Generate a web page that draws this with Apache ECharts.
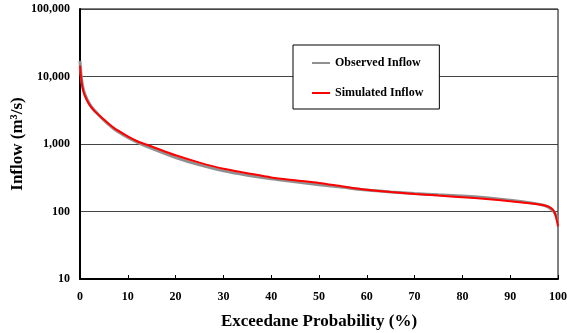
<!DOCTYPE html>
<html>
<head>
<meta charset="utf-8">
<script src="https://cdn.jsdelivr.net/npm/echarts@6/dist/echarts.min.js"></script>
<style>
  html, body { margin: 0; padding: 0; background: #fff; }
  #main { width: 567px; height: 333px; }
</style>
</head>
<body>
<div id="main"></div>
<script>
// exceedance probability (%) and flows
var prob = [0, 0.2, 0.5, 1, 2, 3, 5, 7, 10, 12, 15, 20, 25, 30, 35, 40, 45, 50, 55, 60, 65, 70, 75, 80, 85, 90, 95, 97, 98, 99, 99.5, 100];
var observed = [17000, 11000, 7500, 5500, 3900, 3150, 2250, 1700, 1250, 1060, 860, 630, 490, 400, 345, 305, 275, 250, 228, 208, 195, 185, 177, 170, 160, 147, 132, 124, 116, 102, 90, 70];
var simulated = [14500, 10000, 7000, 5200, 3800, 3100, 2300, 1750, 1300, 1100, 920, 680, 530, 430, 370, 320, 290, 265, 235, 210, 195, 182, 172, 163, 153, 142, 130, 124, 118, 105, 88, 60];
var seriesNames = ['Observed Inflow', 'Simulated Inflow'];

function pairs(ys) {
    return prob.map(function (p, i) { return [p, ys[i]]; });
}

var myChart = echarts.init(document.getElementById('main'));

var font = 'Liberation Serif';

var option = {
    animation: false,
    backgroundColor: '#fff',
    grid: {
        left: 80,
        right: 9,
        top: 9,
        bottom: 54,
        outerBoundsMode: 'none',
        containLabel: false,
        show: true,
        borderColor: '#000',
        borderWidth: 1
    },
    legend: {
        data: seriesNames,
        orient: 'vertical',
        left: 293,
        top: 45,
        padding: [12, 16, 10, 19],
        itemGap: 18,
        itemWidth: 18,
        itemHeight: 2,
        icon: 'rect',
        backgroundColor: '#fff',
        borderColor: '#000',
        borderWidth: 1,
        textStyle: {
            fontFamily: font,
            fontWeight: 'bold',
            fontSize: 12,
            color: '#000'
        }
    },
    xAxis: {
        type: 'value',
        min: 0,
        max: 100,
        interval: 10,
        name: 'Exceedane Probability (%)',
        nameLocation: 'middle',
        nameGap: 34,
        nameMoveOverlap: false,
        nameTextStyle: {
            fontFamily: font,
            fontWeight: 'bold',
            fontSize: 17,
            color: '#000'
        },
        axisLine: { lineStyle: { color: '#000', width: 2 } },
        axisTick: { inside: true, length: 4, lineStyle: { color: '#000' } },
        axisLabel: {
            fontFamily: font,
            fontWeight: 'bold',
            fontSize: 12,
            color: '#000',
            margin: 12
        },
        splitLine: { show: false }
    },
    yAxis: {
        type: 'log',
        logBase: 10,
        min: 10,
        max: 100000,
        name: 'Inflow (m³/s)',
        nameLocation: 'middle',
        nameGap: 54,
        nameMoveOverlap: false,
        nameTextStyle: {
            fontFamily: font,
            fontWeight: 'bold',
            fontSize: 17,
            color: '#000'
        },
        axisLine: { show: true, lineStyle: { color: '#000', width: 2 } },
        axisTick: { show: false },
        axisLabel: {
            fontFamily: font,
            fontWeight: 'bold',
            fontSize: 12,
            color: '#000',
            margin: 10,
            formatter: function (v) {
                return Math.round(v).toLocaleString('en-US');
            }
        },
        splitLine: { show: true, lineStyle: { color: '#444', width: 1 } }
    },
    series: [{
        name: seriesNames[0],
        type: 'line',
        symbol: 'none',
        smooth: 0.3,
        data: pairs(observed),
        lineStyle: { color: '#909090', width: 3 },
        itemStyle: { color: '#909090' }
    }, {
        name: seriesNames[1],
        type: 'line',
        symbol: 'none',
        smooth: 0.3,
        data: pairs(simulated),
        lineStyle: { color: '#ff0000', width: 2 },
        itemStyle: { color: '#ff0000' }
    }]
};

myChart.setOption(option);
</script>
</body>
</html>
